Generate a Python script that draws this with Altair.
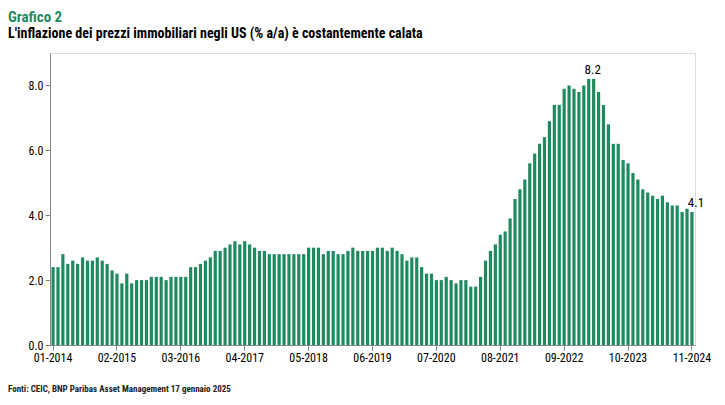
import pandas as pd
import altair as alt

# variazione % a/a, mensile, 01-2014 .. 11-2024
y2014 = [2.4, 2.4, 2.8, 2.5, 2.6, 2.5, 2.7, 2.6, 2.6, 2.7, 2.6, 2.5]
y2015 = [2.3, 2.2, 1.9, 2.2, 1.9, 2.0, 2.0, 2.0, 2.1, 2.1, 2.1, 2.0]
y2016 = [2.1, 2.1, 2.1, 2.1, 2.4, 2.4, 2.5, 2.6, 2.7, 2.9, 2.9, 3.0]
y2017 = [3.1, 3.2, 3.1, 3.2, 3.1, 3.0, 2.9, 2.9, 2.8, 2.8, 2.8, 2.8]
y2018 = [2.8, 2.8, 2.8, 2.8, 3.0, 3.0, 3.0, 2.8, 2.9, 2.9, 2.8, 2.8]
y2019 = [2.9, 3.0, 2.9, 2.9, 2.9, 2.9, 3.0, 3.0, 2.9, 3.0, 2.9, 2.8]
y2020 = [2.6, 2.7, 2.7, 2.4, 2.2, 2.2, 2.0, 2.0, 2.1, 2.0, 1.9, 2.0]
y2021 = [2.0, 1.8, 1.8, 2.1, 2.6, 2.9, 3.1, 3.4, 3.5, 3.9, 4.5, 4.8]
y2022 = [5.1, 5.6, 5.9, 6.2, 6.4, 6.9, 7.4, 7.4, 7.9, 8.0, 7.9, 7.8]
y2023 = [8.0, 8.2, 8.2, 7.8, 7.4, 6.8, 6.2, 6.2, 5.7, 5.6, 5.3, 5.1]
y2024 = [4.8, 4.7, 4.6, 4.5, 4.6, 4.4, 4.3, 4.3, 4.1, 4.2, 4.1]

values = y2014 + y2015 + y2016 + y2017 + y2018 + y2019 + y2020 + y2021 + y2022 + y2023 + y2024
months = [f"{m:02d}-{y}" for y in range(2014, 2025) for m in range(1, 13)][:len(values)]
tick_labels = ["01-2014", "02-2015", "03-2016", "04-2017", "05-2018", "06-2019",
               "07-2020", "08-2021", "09-2022", "10-2023", "11-2024"]
callouts = {"02-2023": "8.2", "11-2024": "4.1"}

df = pd.DataFrame({"mese": months, "valore": values})
df["etichetta"] = df["mese"].map(callouts).fillna("")

font = "Roboto Condensed, Roboto, Liberation Sans Narrow, sans-serif"

x = alt.X("mese:O", sort=months, title=None,
          scale=alt.Scale(paddingInner=0.35, paddingOuter=0.3),
          axis=alt.Axis(values=tick_labels, labelAngle=0, labelFontSize=12,
                        labelColor="#000", domainColor="#888", tickColor="#888",
                        labelFont=font))
y = alt.Y("valore:Q", title=None,
          scale=alt.Scale(domain=[0, 9]),
          axis=alt.Axis(values=[0, 1, 2, 3, 4, 5, 6, 7, 8, 9], format=".1f",
                        grid=False, labelFontSize=12, labelColor="#000",
                        labelOverlap=False, labelFlush=False,
                        domainColor="#888", tickColor="#888", labelFont=font))

bars = alt.Chart(df).mark_bar(color="#1f8a60").encode(x=x, y=y)

labels = alt.Chart(df).mark_text(dy=-9, dx=4, fontSize=13, font=font, color="#000").encode(
    x=alt.X("mese:O", sort=months), y="valore:Q", text="etichetta:N")

note = alt.Chart(df.head(1)).mark_text(
    align="left", fontSize=9, fontWeight="bold", font=font, color="#222"
).encode(x=alt.value(-42), y=alt.value(336),
         text=alt.value("Fonti: CEIC, BNP Paribas Asset Management  17 gennaio 2025"))

chart = alt.layer(bars, labels, note).properties(
    width=645, height=292,
    title=alt.TitleParams(
        "Grafico 2",
        subtitle="L'inflazione dei prezzi immobiliari negli US (% a/a) è costantemente calata",
        anchor="start", frame="group", offset=12, dx=-42,
        font=font, fontSize=15, fontWeight="bold", color="#1f8a60",
        subtitleFont=font, subtitleFontSize=14, subtitleFontWeight="bold",
        subtitleColor="#000", subtitlePadding=2),
    padding={"left": 0, "top": 2, "right": 0, "bottom": 0},
).configure_view(fill="#f2f2f2", stroke=None).configure(background="#ffffff")

chart.save("out.html", embed_options={"renderer": "svg", "actions": False})
